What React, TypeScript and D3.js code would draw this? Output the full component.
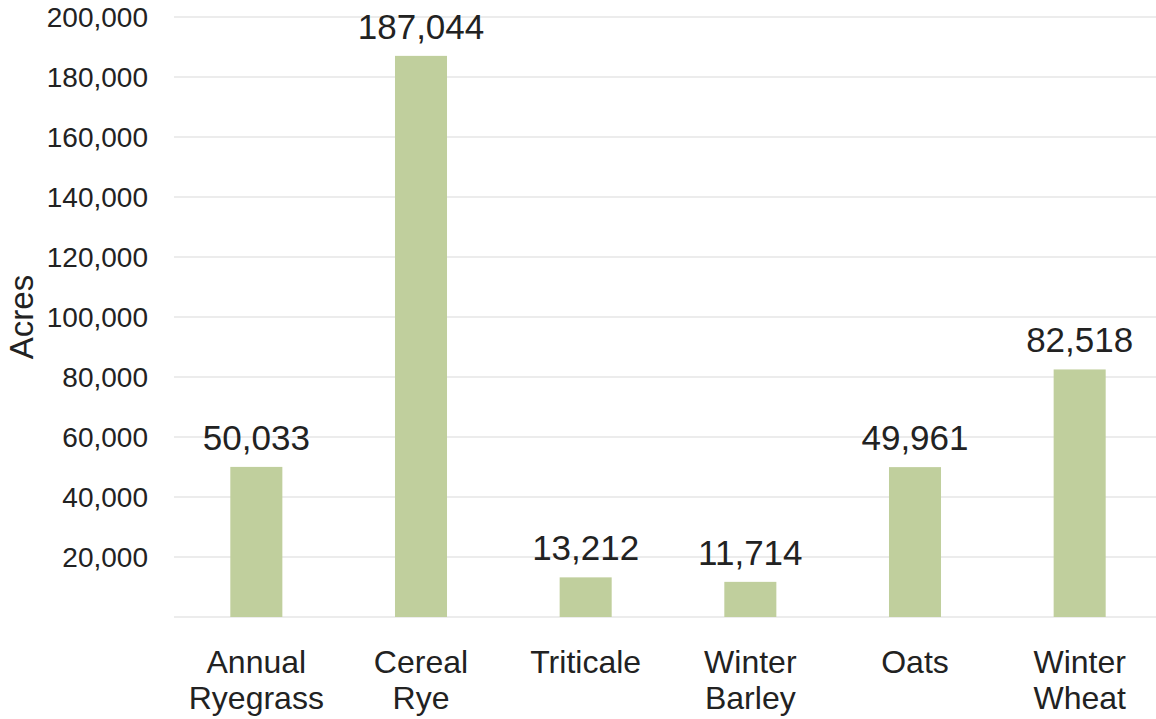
import React from "react";
import * as d3 from "d3";

const categories: string[][] = [
  ["Annual", "Ryegrass"],
  ["Cereal", "Rye"],
  ["Triticale"],
  ["Winter", "Barley"],
  ["Oats"],
  ["Winter", "Wheat"],
];
const values: number[] = [50033, 187044, 13212, 11714, 49961, 82518];
const yTicks: number[] = [20000, 40000, 60000, 80000, 100000, 120000, 140000, 160000, 180000, 200000];
const yLabel = "Acres";

const W = 1156;
const H = 719;
const FONT = "'Liberation Sans', Arial, Helvetica, sans-serif";

export default function App() {
  const keys = categories.map((c) => c.join(" "));
  const x = d3
    .scaleBand<string>()
    .domain(keys)
    .range([174, 1162])
    .paddingInner(0.684)
    .paddingOuter(0.342);
  const y = d3.scaleLinear().domain([0, 200000]).range([617, 17]);
  const fmt = d3.format(",");

  return (
    <svg
      width={W}
      height={H}
      style={{ position: "absolute", left: 0, top: 0, background: "#fff" }}
      fontFamily={FONT}
    >
      {[0, ...yTicks].map((t) => (
        <line
          key={"g" + t}
          x1={174}
          x2={1162}
          y1={y(t)}
          y2={y(t)}
          stroke="#e6e6e6"
          strokeWidth={1.5}
        />
      ))}
      {yTicks.map((t) => (
        <text
          key={"t" + t}
          x={148}
          y={y(t)}
          dy="0.36em"
          textAnchor="end"
          fontSize={28}
          fill="#222"
        >
          {fmt(t)}
        </text>
      ))}
      <text
        transform={`translate(33, ${(y(0) + y(200000)) / 2}) rotate(-90)`}
        textAnchor="middle"
        fontSize={33}
        fill="#222"
      >
        {yLabel}
      </text>
      {values.map((v, i) => {
        const k = keys[i];
        const bx = x(k) as number;
        return (
          <g key={"b" + k}>
            <rect
              x={bx}
              y={y(v)}
              width={x.bandwidth()}
              height={y(0) - y(v)}
              fill="#c0cf9d"
            />
            <text
              x={bx + x.bandwidth() / 2}
              y={y(v) - 17}
              textAnchor="middle"
              fontSize={35}
              fill="#222"
            >
              {fmt(v)}
            </text>
          </g>
        );
      })}
      {categories.map((lines, i) => {
        const k = keys[i];
        const cx = (x(k) as number) + x.bandwidth() / 2;
        return (
          <text key={"c" + k} textAnchor="middle" fontSize={32} fill="#222">
            {lines.map((ln, j) => (
              <tspan key={j} x={cx} y={673 + j * 36}>
                {ln}
              </tspan>
            ))}
          </text>
        );
      })}
    </svg>
  );
}
